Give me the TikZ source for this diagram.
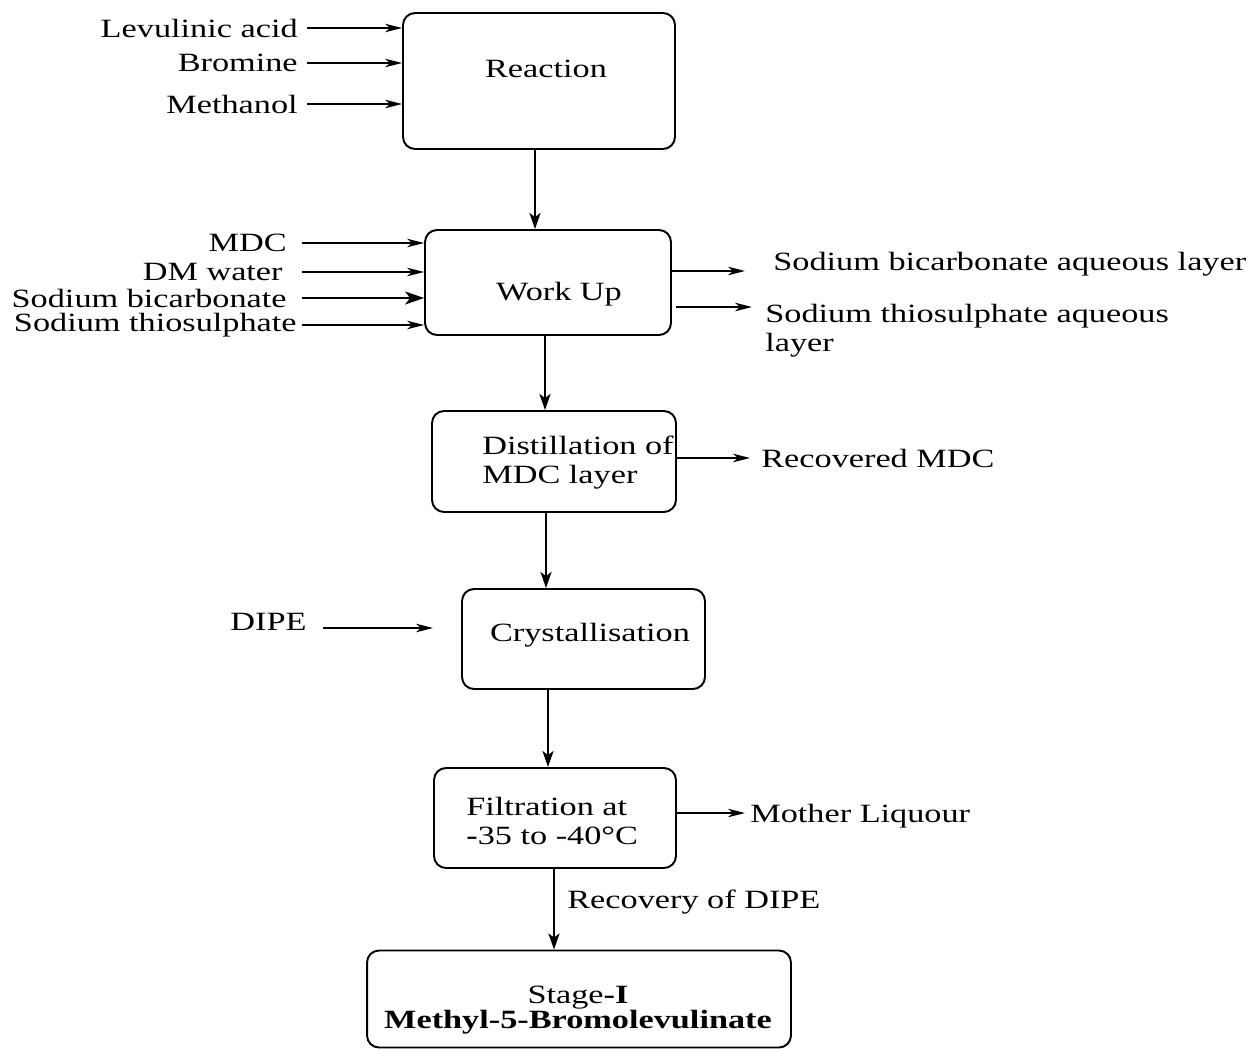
\documentclass[tikz,border=0pt]{standalone}
\usepackage{fontspec}
\setmainfont{Liberation Serif}[FakeStretch=1.3]
\usetikzlibrary{arrows.meta}

\begin{document}
\begin{tikzpicture}[x=0.02cm,y=-0.02cm,font=\fontsize{15}{16.5}\selectfont,
 box/.style={draw,line width=1.1pt,rounded corners=.24cm,inner sep=0pt},
 lbl/.style={inner sep=0pt},
 arr/.style={-{Stealth[length=.34cm,width=.17cm,inset=.1cm]},line width=1.1pt},
 arrbig/.style={-{Stealth[length=.38cm,width=.26cm,inset=.1cm]},line width=1.1pt},
 down/.style={-{Stealth[length=.32cm,width=.22cm,inset=.08cm]},line width=1.5pt}]
\useasboundingbox (0,0) rectangle (1254,1048);
% process steps
\node[box,minimum width=5.44cm,minimum height=2.72cm] (react) at (539,81) {};
\node[box,minimum width=4.92cm,minimum height=2.1cm] (workup) at (548,282.5) {};
\node[box,minimum width=4.88cm,minimum height=2.02cm] (distil) at (554,461.5) {};
\node[box,minimum width=4.86cm,minimum height=2cm] (cryst) at (583.5,639) {};
\node[box,minimum width=4.84cm,minimum height=2cm] (filt) at (555,818) {};
\node[box,minimum width=8.48cm,minimum height=1.94cm] (final) at (579,999) {};
\node[lbl] (reactT) at (546,69) {Reaction};
\node[lbl] (workT) at (559,294) {Work Up};
\node[lbl,anchor=west,align=left] (distT) at (482,463) {Distillation of\\MDC layer};
\node[lbl] (crystT) at (590,635) {Crystallisation};
\node[lbl,anchor=west,align=left] (filtT) at (466,821) {Filtration at\\\textbf{-}35 to -40°C};
\node[lbl,align=center] (finT) at (578,1010) {Stage\textbf{-I}\\[-2pt]\textbf{Methyl-5-Bromolevulinate}};
% feeds to reaction
\node[lbl,anchor=east] (levu) at (298,28) {Levulinic acid};
\node[lbl,anchor=east] (brom) at (298,63) {Bromine};
\node[lbl,anchor=east] (meoh) at (298,104) {Methanol};
\foreach \f in {levu,brom,meoh}{\draw[arr] ([xshift=.18cm]\f.east) -- (\f.east -| react.west);}
% feeds to work up
\coordinate (feedx) at (302,0);
\node[lbl,anchor=east] (mdc) at (287,243) {MDC};
\node[lbl,anchor=east] (dmw) at (283,272) {DM water};
\node[lbl,anchor=east] (sbic) at (287,298) {Sodium bicarbonate};
\node[lbl,anchor=east] (sthio) at (297,325) {Sodium thiosulphate};
\draw[arr] (mdc.east -| feedx) -- (mdc.east -| workup.west);
\draw[arr] (dmw.east -| feedx) -- (dmw.east -| workup.west);
\draw[arrbig] (sbic.east -| feedx) -- (sbic.east -| workup.west);
\draw[arr] (sthio.east -| feedx) -- (sthio.east -| workup.west);
% work up outlets
\node[lbl,anchor=west] (sbal) at (773,264) {Sodium bicarbonate aqueous layer};
\node[lbl,anchor=west,align=left] (stal) at (765,331) {Sodium thiosulphate aqueous\\layer};
\coordinate (sbout) at (745,271);
\coordinate (stout) at (752,307);
\draw[arr] (sbout -| workup.east) -- (sbout);
\draw[arr] ([xshift=.08cm]stout -| workup.east) -- (stout);
% other side streams
\node[lbl,anchor=west] (rmdc) at (761,458) {Recovered MDC};
\draw[arr] (distil.east |- rmdc.west) -- ([xshift=-.22cm]rmdc.west);
\node[lbl,anchor=west] (dipe) at (230,622) {DIPE};
\coordinate (dipein) at (433,628);
\draw[arr] ([xshift=.32cm]dipe.east |- dipein) -- (dipein);
\node[lbl,anchor=west] (mliq) at (750,816) {Mother Liquour};
\draw[arr] (filt.east |- 0,813) -- ([xshift=-.1cm]mliq.west |- 0,813);
\node[lbl,anchor=west] (recov) at (567,902) {Recovery of DIPE};
% main line
\draw[down] ([xshift=-.08cm]react.south) -- ([xshift=-.08cm]react.south |- workup.north);
\draw[down] ([xshift=-.06cm]workup.south) -- ([xshift=-.06cm]workup.south |- distil.north);
\draw[down] ([xshift=-.16cm]distil.south) -- ([xshift=-.16cm]distil.south |- cryst.north);
\draw[down] ([xshift=-.14cm]filt.north |- cryst.south) -- ([xshift=-.14cm]filt.north);
\draw[down] ([xshift=-.02cm]filt.south) -- ([xshift=-.02cm]filt.south |- final.north);
\end{tikzpicture}
\end{document}
